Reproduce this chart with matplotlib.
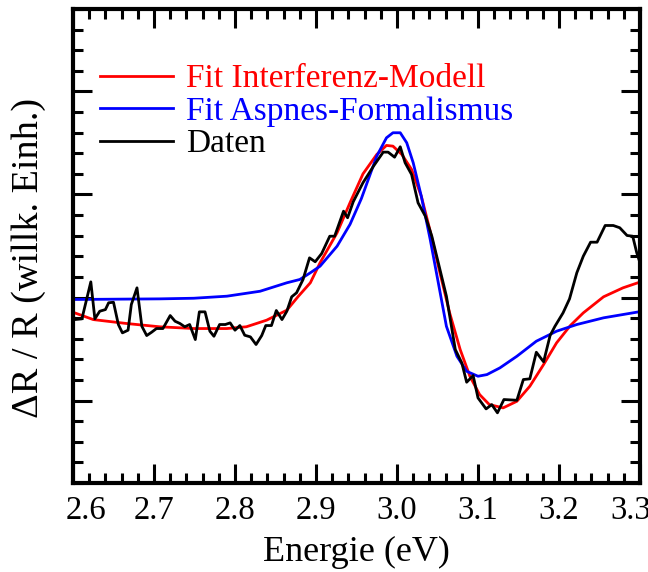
import matplotlib
matplotlib.use("Agg")
import matplotlib.pyplot as plt
from matplotlib.ticker import MultipleLocator, NullFormatter
from matplotlib.transforms import ScaledTranslation

# Measured reflectance change (arbitrary units) versus photon energy
energy_data = [2.600, 2.602, 2.611, 2.622, 2.627, 2.633, 2.640, 2.644, 2.650, 2.656,
               2.661, 2.668, 2.672, 2.679, 2.685, 2.691, 2.697, 2.703, 2.711, 2.720,
               2.726, 2.732, 2.738, 2.744, 2.751, 2.756, 2.763, 2.769, 2.774, 2.781,
               2.788, 2.794, 2.800, 2.806, 2.812, 2.819, 2.826, 2.833, 2.838, 2.845,
               2.851, 2.858, 2.864, 2.870, 2.876, 2.884, 2.892, 2.899, 2.907, 2.917,
               2.923, 2.934, 2.939, 2.946, 2.958, 2.971, 2.983, 2.989, 2.997, 3.004,
               3.010, 3.018, 3.026, 3.035, 3.043, 3.051, 3.061, 3.072, 3.080, 3.086,
               3.094, 3.100, 3.110, 3.117, 3.124, 3.132, 3.148, 3.156, 3.164, 3.172,
               3.181, 3.189, 3.195, 3.205, 3.213, 3.222, 3.230, 3.239, 3.247, 3.257,
               3.267, 3.275, 3.284, 3.291, 3.296, 3.304]
dr_data = [-0.165, -0.214, -0.207, 0.152, -0.207, -0.133, -0.117, -0.051, -0.046, -0.262,
           -0.343, -0.317, -0.068, 0.094, -0.279, -0.369, -0.337, -0.301, -0.301, -0.175,
           -0.230, -0.252, -0.284, -0.262, -0.408, -0.139, -0.139, -0.327, -0.376, -0.262,
           -0.262, -0.246, -0.317, -0.272, -0.366, -0.382, -0.456, -0.369, -0.272, -0.272,
           -0.126, -0.214, -0.133, 0.007, 0.046, 0.175, 0.385, 0.347, 0.427, 0.595,
           0.595, 0.838, 0.774, 0.930, 1.114, 1.275, 1.411, 1.411, 1.362, 1.463,
           1.308, 1.194, 0.919, 0.789, 0.595, 0.337, 0.013, -0.505, -0.634, -0.822,
           -0.757, -0.974, -1.081, -1.039, -1.119, -0.990, -0.997, -0.796, -0.789, -0.531,
           -0.624, -0.369, -0.279, -0.149, -0.013, 0.240, 0.401, 0.537, 0.537, 0.699,
           0.699, 0.677, 0.602, 0.595, 0.434, 0.240]

# Interference-model fit
energy_interf = [2.600, 2.625, 2.666, 2.707, 2.749, 2.790, 2.814, 2.839, 2.864, 2.878,
                 2.893, 2.905, 2.926, 2.942, 2.958, 2.975, 2.987, 2.995, 3.006, 3.018,
                 3.030, 3.041, 3.053, 3.065, 3.078, 3.090, 3.102, 3.114, 3.131, 3.148,
                 3.164, 3.181, 3.197, 3.214, 3.230, 3.255, 3.279, 3.303]
dr_interf = [-0.143, -0.214, -0.252, -0.284, -0.301, -0.301, -0.284, -0.220, -0.123, 0.010,
             0.143, 0.337, 0.628, 0.920, 1.200, 1.388, 1.476, 1.469, 1.388, 1.243,
             0.983, 0.644, 0.240, -0.149, -0.505, -0.764, -0.942, -1.039, -1.071, -1.007,
             -0.861, -0.650, -0.440, -0.272, -0.149, 0.007, 0.094, 0.158]

# Aspnes third-derivative formalism fit
energy_aspnes = [2.600, 2.707, 2.749, 2.790, 2.831, 2.864, 2.880, 2.893, 2.905, 2.926,
                 2.942, 2.956, 2.975, 2.987, 2.995, 3.004, 3.012, 3.020, 3.030, 3.041,
                 3.051, 3.061, 3.074, 3.086, 3.100, 3.111, 3.127, 3.148, 3.172, 3.197,
                 3.222, 3.255, 3.303]
dr_aspnes = [-0.019, -0.013, -0.007, 0.013, 0.061, 0.143, 0.175, 0.240, 0.304, 0.498,
             0.710, 0.960, 1.372, 1.550, 1.599, 1.599, 1.502, 1.308, 0.983, 0.563,
             0.143, -0.279, -0.570, -0.716, -0.764, -0.748, -0.683, -0.570, -0.424, -0.327,
             -0.262, -0.197, -0.133]

x_ticks = [2.6, 2.7, 2.8, 2.9, 3.0, 3.1, 3.2, 3.3]
x_ticklabels = ["2.6", "2.7", "2.8", "2.9", "3.0", "3.1", "3.2", "3.3"]

plt.rcParams["font.family"] = ["Liberation Serif", "DejaVu Serif"]

fig = plt.figure(figsize=(6.48, 5.72), dpi=100)
ax = fig.add_axes([73 / 648, 1 - 483 / 572, (640 - 73) / 648, (483 - 9) / 572])

lw = 2.0
ax.plot(energy_interf, dr_interf, color="#ff0000", lw=lw, label="Fit Interferenz-Modell",
        solid_joinstyle="round")
ax.plot(energy_aspnes, dr_aspnes, color="#0000ff", lw=lw, label="Fit Aspnes-Formalismus",
        solid_joinstyle="round")
ax.plot(energy_data, dr_data, color="black", lw=lw, label="Daten", solid_joinstyle="round")

ax.xaxis.set_minor_locator(MultipleLocator(0.02))
ax.yaxis.set_major_locator(MultipleLocator(1.0))
ax.yaxis.set_minor_locator(MultipleLocator(0.2))
ax.yaxis.set_major_formatter(NullFormatter())

ax.set_xticks(x_ticks)
ax.set_xticklabels(x_ticklabels)
ax.set_xlim(2.6, 3.3)
ax.set_ylim(-1.8, 2.8)

ax.tick_params(which="both", direction="in", top=True, right=True, width=2.2, colors="black")
ax.tick_params(which="major", length=13.5)
ax.tick_params(which="minor", length=7)
ax.tick_params(axis="x", which="major", labelsize=23.5, pad=9)

for sp in ax.spines.values():
    sp.set_linewidth(3.0)
    sp.set_joinstyle("round")

# keep the outermost tick labels inside the frame
labels = ax.get_xticklabels()
labels[0].set_transform(labels[0].get_transform() + ScaledTranslation(13 / 100, 0, fig.dpi_scale_trans))
labels[-1].set_transform(labels[-1].get_transform() + ScaledTranslation(-9 / 100, 0, fig.dpi_scale_trans))

ax.set_xlabel("Energie (eV)", fontsize=26, labelpad=7)
ax.set_ylabel("ΔR / R (willk. Einh.)", fontsize=27.5)
ax.yaxis.set_label_coords(-0.047, 0.475)

leg = ax.legend(loc="upper left", bbox_to_anchor=(0.047, 0.884), frameon=False, fontsize=24,
                handlelength=2.2, handletextpad=0.4, labelspacing=0.06, borderpad=0,
                borderaxespad=0, labelcolor="linecolor")

fig.savefig("out.png", dpi=100)
